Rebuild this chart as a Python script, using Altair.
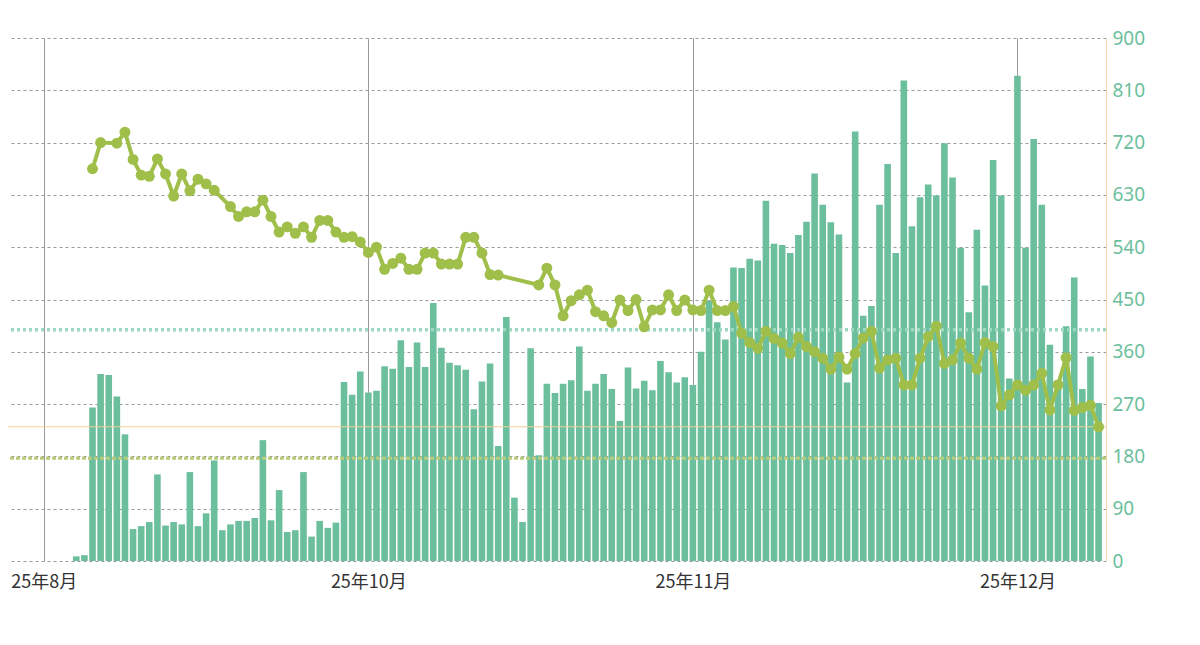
import altair as alt
import pandas as pd

# daily bars, day index 4..130 (tick 0 = 25年8月, every 40 days next label)
bar_start = 4
bar_values = [
    8, 10, 264, 322, 320, 283, 218, 55, 60, 67, 149, 61, 67, 63, 153, 60, 82, 173,
    53, 63, 69, 69, 74, 208, 70, 122, 50, 53, 153, 42, 69, 57, 66, 308, 286, 326,
    290, 293, 335, 331, 380, 334, 376, 334, 444, 367, 341, 337, 329, 261, 309, 340,
    198, 420, 109, 67, 366, 182, 305, 289, 305, 311, 369, 293, 305, 322, 296, 241,
    333, 297, 310, 294, 344, 325, 307, 316, 303, 360, 448, 411, 381, 505, 504, 520,
    517, 620, 546, 544, 530, 561, 584, 667, 613, 583, 562, 307, 739, 422, 439, 613,
    683, 530, 827, 576, 626, 648, 629, 719, 660, 539, 428, 570, 474, 690, 629, 314,
    835, 539, 726, 613, 372, 311, 404, 488, 296, 352, 272,
]

line_days = [6, 7, 9, 10, 11, 12, 13, 14, 15, 16, 17, 18, 19, 20, 21, 23, 24, 25,
             26, 27, 28, 29, 30, 31, 32, 33, 34, 35, 36, 37, 38, 39, 40, 41, 42, 43,
             44, 45, 46, 47, 48, 49, 50, 51, 52, 53, 54, 55, 56, 61, 62, 63, 64, 65,
             66, 67, 68, 69, 70, 71, 72, 73, 74, 75, 76, 77, 78, 79, 80, 81, 82, 83,
             84, 85, 86, 87, 88, 89, 90, 91, 92, 93, 94, 95, 96, 97, 98, 99, 100, 101,
             102, 103, 104, 105, 106, 107, 108, 109, 110, 111, 112, 113, 114, 115, 116,
             117, 118, 119, 120, 121, 122, 123, 124, 125, 126, 127, 128, 129, 130]
line_values = [675, 720, 719, 738, 691, 664, 662, 692, 666, 628, 666, 637, 657, 649,
               638, 610, 593, 601, 601, 621, 593, 566, 575, 564, 575, 557, 586, 586,
               566, 557, 558, 549, 531, 540, 502, 512, 521, 502, 502, 530, 530, 511,
               511, 511, 557, 557, 530, 493, 492, 475, 504, 475, 422, 448, 458, 466,
               429, 422, 410, 449, 431, 450, 403, 432, 432, 458, 431, 449, 432, 431,
               466, 431, 431, 438, 392, 376, 366, 395, 383, 375, 357, 385, 369, 360,
               349, 330, 351, 330, 357, 384, 395, 332, 346, 349, 303, 303, 349, 386,
               404, 340, 346, 375, 349, 330, 376, 369, 267, 286, 303, 294, 303, 323,
               260, 303, 350, 259, 264, 268, 231]

tick_days = [0, 40, 80, 120]
tick_labels = ["25年8月", "25年10月", "25年11月", "25年12月"]

ref_teal = 398
ref_orange = 231
ref_olive = 177

bars = pd.DataFrame({"day": list(range(bar_start, bar_start + len(bar_values))),
                     "v": bar_values})
line_df = pd.DataFrame({"day": line_days, "v": line_values})

label_expr = " : ".join(
    f"datum.value == {d} ? '{t}'" for d, t in zip(tick_days, tick_labels)
) + " : ''"

xscale = alt.Scale(domain=[-3.8, 130.3], nice=False, zero=False)
yscale = alt.Scale(domain=[0, 900], nice=False)

bar = alt.Chart(bars).mark_bar(size=6.6, color="#6cbf9c").encode(
    x=alt.X("day:Q", scale=xscale, title=None,
            axis=alt.Axis(values=tick_days, labelExpr=label_expr, grid=True,
                          gridColor="#9a9a9a", gridWidth=1, domain=False, ticks=False,
                          labelFontSize=18, labelColor="#333", labelPadding=12,
                          labelFont="Noto Sans CJK SC")),
    y=alt.Y("v:Q", scale=yscale, title=None,
            axis=alt.Axis(orient="right", values=list(range(0, 901, 90)), grid=True,
                          gridDash=[3, 3], gridColor="#9a9a9a", domainColor="#f2d6a6",
                          ticks=False, labelFontSize=19, labelColor="#6cbf9c",
                          labelPadding=6, labelFont="Noto Sans")),
)

line = alt.Chart(line_df).mark_line(
    color="#9fbf4a", strokeWidth=4,
    point=alt.OverlayMarkDef(color="#9fbf4a", size=120, filled=True, opacity=1),
).encode(x=alt.X("day:Q", scale=xscale), y=alt.Y("v:Q", scale=yscale))

teal = alt.Chart(pd.DataFrame({"v": [ref_teal]})).mark_rule(
    color="#9fd8c0", strokeWidth=3.5, strokeDash=[3, 3]).encode(y=alt.Y("v:Q", scale=yscale))
orange = alt.Chart(pd.DataFrame({"v": [ref_orange]})).mark_rule(
    color="#f2cf96", strokeWidth=1).encode(y=alt.Y("v:Q", scale=yscale))
olive = alt.Chart(pd.DataFrame({"v": [ref_olive]})).mark_rule(
    color="#b8cc7a", strokeWidth=3, strokeDash=[4, 2]).encode(y=alt.Y("v:Q", scale=yscale))

chart = alt.layer(bar, teal, orange, olive, line).properties(
    width=1098, height=523,
    autosize=alt.AutoSizeParams(type="none"),
    padding={"left": 0, "top": 30, "right": 86, "bottom": 76},
).configure_view(stroke=None)

chart.save("out.html", embed_options={"renderer": "svg", "actions": False})
